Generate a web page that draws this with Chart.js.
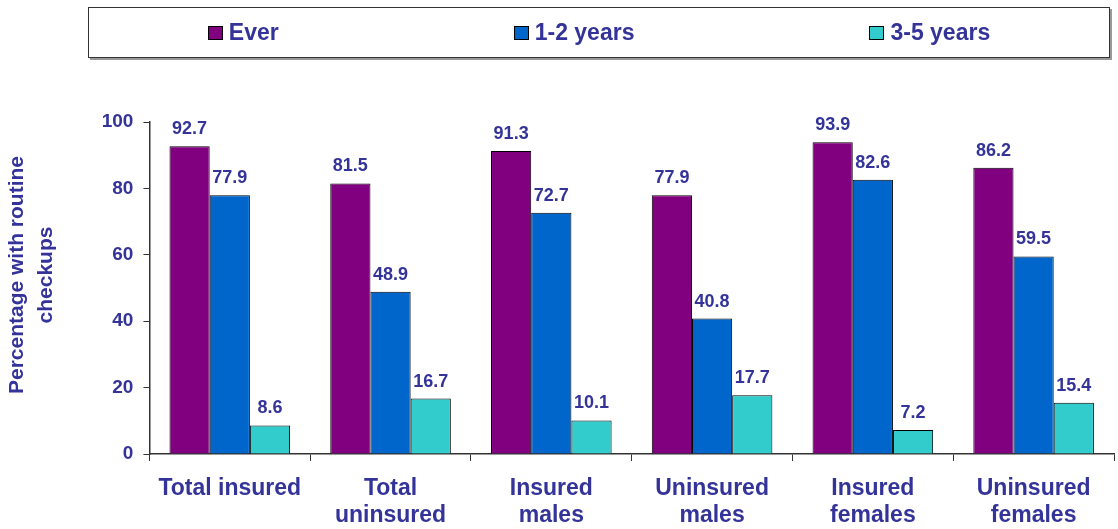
<!DOCTYPE html>
<html>
<head>
<meta charset="utf-8">
<script src="https://cdn.jsdelivr.net/npm/chart.js@4"></script>
<style>
  body { margin: 0; background: #fff; }
  #wrap { position: relative; width: 1118px; height: 529px; }
  #legend {
    position: absolute; left: 88px; top: 7px; width: 1020px; height: 49px;
    border: 1px solid #333; box-shadow: 2px 2px 0 #999;
    display: flex; justify-content: center; align-items: center; gap: 235px;
    font: bold 23px "Liberation Sans", Arial, sans-serif; color: #333399;
  }
  #legend span.box { display: inline-block; width: 13px; height: 12px; border: 1px solid #000; margin-right: 6px; vertical-align: 0px; }
</style>
</head>
<body>
<div id="wrap">
  <div id="legend"></div>
  <canvas id="chart" width="1118" height="529"></canvas>
</div>
<script>
const categories = [
  ['Total insured'], ['Total', 'uninsured'], ['Insured', 'males'],
  ['Uninsured', 'males'], ['Insured', 'females'], ['Uninsured', 'females']
];
const everValues = [92.7, 81.5, 91.3, 77.9, 93.9, 86.2];
const oneTwoValues = [77.9, 48.9, 72.7, 40.8, 82.6, 59.5];
const threeFiveValues = [8.6, 16.7, 10.1, 17.7, 7.2, 15.4];
const seriesNames = ['Ever', '1-2 years', '3-5 years'];
const seriesColors = ['#800080', '#0066CC', '#33CCCC'];
const yTicks = [0, 20, 40, 60, 80, 100];
const yTitle = ['Percentage with routine', 'checkups'];

const textColor = '#333399';
const fontFamily = '"Liberation Sans", Arial, sans-serif';

// value labels above each bar
const valueLabels = {
  id: 'valueLabels',
  afterDatasetsDraw(chart) {
    const ctx = chart.ctx;
    ctx.save();
    ctx.font = 'bold 18px ' + fontFamily;
    ctx.fillStyle = textColor;
    ctx.textAlign = 'center';
    ctx.textBaseline = 'bottom';
    chart.data.datasets.forEach((ds, i) => {
      chart.getDatasetMeta(i).data.forEach((bar, j) => {
        ctx.fillText(ds.data[j].toFixed(1), bar.x, bar.y - 8);
      });
    });
    ctx.restore();
  }
};

// y title drawn a little above the plot centre, like the original
const yTitlePlugin = {
  id: 'yTitlePlugin',
  afterDraw(chart) {
    const ctx = chart.ctx;
    const ys = chart.scales.y;
    const cy = (chart.chartArea.top + chart.chartArea.bottom) / 2 - 13;
    ctx.save();
    ctx.font = 'bold 21px ' + fontFamily;
    ctx.fillStyle = textColor;
    ctx.textAlign = 'center';
    ctx.textBaseline = 'middle';
    yTitle.forEach((line, i) => {
      ctx.save();
      ctx.translate(ys.left + 15 + i * 29, cy);
      ctx.rotate(-Math.PI / 2);
      ctx.fillText(line, 0, 0);
      ctx.restore();
    });
    ctx.restore();
  }
};

const datasets = [everValues, oneTwoValues, threeFiveValues].map((vals, i) => ({
  label: seriesNames[i],
  data: vals,
  backgroundColor: seriesColors[i],
  borderColor: '#000',
  borderWidth: 1,
  barPercentage: 1,
  categoryPercentage: 0.75
}));

const legend = document.getElementById('legend');
datasets.forEach(ds => {
  const item = document.createElement('div');
  item.innerHTML = '<span class="box" style="background:' + ds.backgroundColor + '"></span>' + ds.label;
  legend.appendChild(item);
});

new Chart(document.getElementById('chart'), {
  type: 'bar',
  data: { labels: categories, datasets: datasets },
  plugins: [valueLabels, yTitlePlugin],
  options: {
    responsive: false,
    animation: false,
    layout: { padding: { top: 122, right: 4, left: 2, bottom: 0 } },
    plugins: { legend: { display: false }, tooltip: { enabled: false } },
    scales: {
      x: {
        afterFit: s => { s.height = 75; },
        grid: { offset: true, drawOnChartArea: false, tickLength: 7, color: '#333' },
        border: { color: '#333', width: 1.5 },
        ticks: { color: textColor, font: { family: fontFamily, size: 23, weight: 'bold', lineHeight: 1.18 }, padding: 14, maxRotation: 0 }
      },
      y: {
        min: 0, max: 100,
        afterBuildTicks: axis => { axis.ticks = yTicks.map(v => ({ value: v })); },
        grid: { drawOnChartArea: false, tickLength: 6, color: '#333' },
        border: { color: '#333', width: 1.5 },
        ticks: { color: textColor, font: { family: fontFamily, size: 19, weight: 'bold' }, padding: 10 },
        title: {
          display: true,
          text: yTitle,
          color: 'rgba(0,0,0,0)',
          font: { family: fontFamily, size: 21, weight: 'bold', lineHeight: 1.35 },
          padding: { top: 0, bottom: 33 }
        }
      }
    }
  }
});
</script>
</body>
</html>
